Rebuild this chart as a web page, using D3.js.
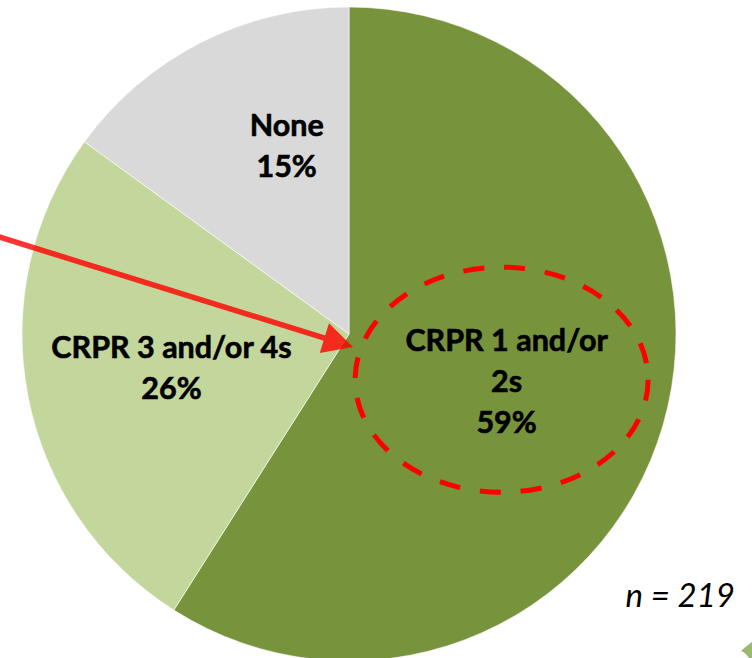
<!DOCTYPE html>
<html>
<head>
<meta charset="utf-8">
<script src="https://cdn.jsdelivr.net/npm/d3@7"></script>
<style>
  html, body { margin: 0; padding: 0; background: #fff; overflow: hidden; }
  svg { display: block; }
  text { font-family: Lato, "Open Sans", sans-serif; }
</style>
</head>
<body>
<div id="chart"></div>
<script>
// pie data
const categories = ["CRPR 1 and/or 2s", "CRPR 3 and/or 4s", "None"];
const shares = [59, 26, 15];
const sliceColors = ["#77933C", "#C3D69B", "#D9D9D9"];
const sampleNote = "n = 219";

const w = 752;
const h = 658;
const cx = 349, cy = 334, radius = 327;

const svg = d3.select("#chart")
  .append("svg")
  .attr("width", w)
  .attr("height", h);

const data = categories.map((c, i) => ({ name: c, value: shares[i], color: sliceColors[i] }));

const pie = d3.pie()
  .sort(null)
  .value(d => d.value)
  .startAngle(0)
  .endAngle(2 * Math.PI);

const arcs = pie(data);
const arc = d3.arc().innerRadius(0).outerRadius(radius);

const g = svg.append("g").attr("transform", `translate(${cx},${cy})`);

g.selectAll("path.slice")
  .data(arcs)
  .enter()
  .append("path")
  .attr("class", "slice")
  .attr("d", arc)
  .attr("fill", d => d.data.color)
  .attr("stroke", "#fff")
  .attr("stroke-width", 0.6);

// label anchors (Excel "best fit" placement): angle in degrees from 12 o'clock, fraction of radius
const labelLayout = [
  { angle: 107, rf: 0.504, wrap: 215 },
  { angle: 259, rf: 0.553, wrap: 320 },
  { angle: 341.6, rf: 0.604, wrap: 200 }
];
const lineH = 41;
const fontSize = 30.5;

const labelCenters = arcs.map((d, i) => {
  const L = labelLayout[i];
  const a = L.angle * Math.PI / 180;
  return [Math.sin(a) * radius * L.rf, -Math.cos(a) * radius * L.rf];
});

const labels = g.selectAll("text.lbl")
  .data(arcs)
  .enter()
  .append("text")
  .attr("class", "lbl")
  .attr("text-anchor", "middle")
  .attr("font-size", fontSize)
  .attr("font-weight", "bold")
  .attr("fill", "#000")
  .attr("stroke", "#000")
  .attr("stroke-width", 0.6);

labels.each(function (d, i) {
  const t = d3.select(this);
  const [x, y] = labelCenters[i];
  // wrap the category name to the layout width
  const words = d.data.name.split(/\s+/);
  const lines = [];
  let line = [];
  const probe = t.append("tspan");
  words.forEach(word => {
    line.push(word);
    probe.text(line.join(" "));
    if (probe.node().getComputedTextLength() > labelLayout[i].wrap && line.length > 1) {
      line.pop();
      lines.push(line.join(" "));
      line = [word];
    }
  });
  lines.push(line.join(" "));
  probe.remove();
  lines.push(d.data.value + "%");

  const first = y - (lines.length - 1) * lineH / 2 + 10;
  lines.forEach((s, k) => {
    t.append("tspan")
      .attr("x", x)
      .attr("y", first + k * lineH)
      .text(s);
  });
});

// dashed highlight around the largest slice's label
const [ex, ey] = labelCenters[0];
g.append("ellipse")
  .attr("cx", ex - 5)
  .attr("cy", ey - 2.5)
  .attr("rx", 146.5)
  .attr("ry", 112.5)
  .attr("fill", "none")
  .attr("stroke", "#FF0000")
  .attr("stroke-width", 5)
  .attr("stroke-dasharray", "21,20");

// red arrow pointing into the highlighted slice
const start = [-4, 236];
const tip = [353, 347];
const dx = tip[0] - start[0], dy = tip[1] - start[1];
const len = Math.hypot(dx, dy);
const ux = dx / len, uy = dy / len;
const headLen = 30, headHalf = 15.5;
const base = [tip[0] - ux * headLen, tip[1] - uy * headLen];

const arrow = svg.append("g").attr("opacity", 0.8);
arrow.append("line")
  .attr("x1", start[0])
  .attr("y1", start[1])
  .attr("x2", base[0] + ux * 2)
  .attr("y2", base[1] + uy * 2)
  .attr("stroke", "#FF0000")
  .attr("stroke-width", 5.5);
arrow.append("path")
  .attr("d", d3.line()([
    tip,
    [base[0] - uy * headHalf, base[1] + ux * headHalf],
    [base[0] + uy * headHalf, base[1] - ux * headHalf]
  ]) + "Z")
  .attr("fill", "#FF0000");

svg.append("text")
  .text(sampleNote)
  .attr("x", 735)
  .attr("y", 607)
  .attr("text-anchor", "end")
  .attr("font-size", 33)
  .attr("font-style", "italic")
  .attr("fill", "#000");

// bit of leaf clip-art peeking in at the corner
svg.append("path")
  .attr("d", "M752,642 C748,645 744,648 741,651 C744,652 747,655 749,658 L752,658 Z")
  .attr("fill", "#7FA84A")
  .attr("opacity", 0.8);
</script>
</body>
</html>
